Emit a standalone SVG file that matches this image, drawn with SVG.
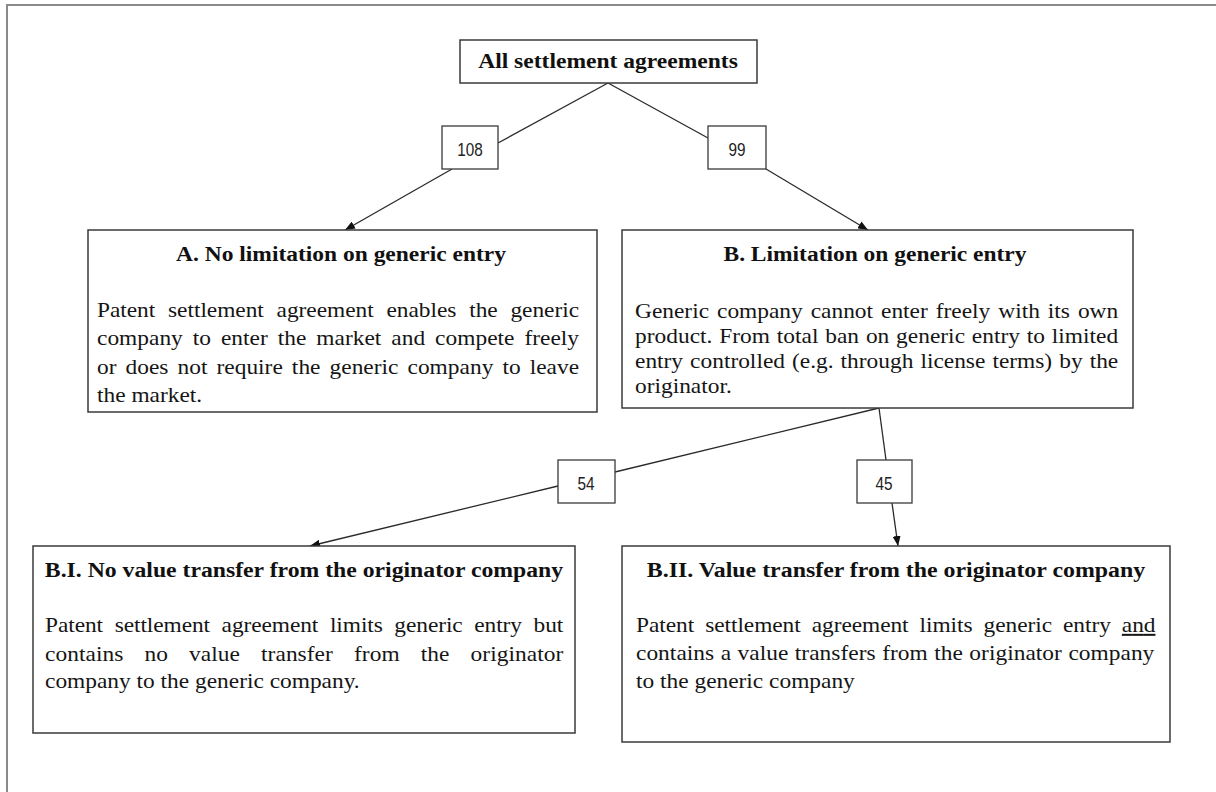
<svg xmlns="http://www.w3.org/2000/svg" width="1216" height="792" viewBox="0 0 1216 792">
<defs>
<style>
.box{fill:#fff;stroke:#3a3a3a;stroke-width:1.5}
.num{fill:#fff;stroke:#3a3a3a;stroke-width:1.3}
.hd{font-family:"Liberation Serif","Times New Roman",serif;font-size:20px;font-weight:bold;fill:#111;text-anchor:middle}
.bd{font-family:"Liberation Serif","Times New Roman",serif;font-size:20px;fill:#151515}
.nt{font-family:"Liberation Sans",Arial,sans-serif;font-size:18px;fill:#222;text-anchor:middle}
.cn{stroke:#2a2a2a;stroke-width:1.3;fill:none}
</style>
<marker id="ah" viewBox="0 0 10 8" refX="10" refY="4" markerWidth="10" markerHeight="8" markerUnits="userSpaceOnUse" orient="auto">
<path d="M0,0 L10,4 L0,8 Z" fill="#111"/>
</marker>
</defs>
<rect x="0" y="0" width="1216" height="792" fill="#fff"/>
<g id="frame">
<path d="M7,792 L7,5 L1216,5" fill="none" stroke="#8a8a8a" stroke-width="2"/>
</g>

<g id="connectors">
<line class="cn" x1="608" y1="83" x2="498" y2="143"/>
<line class="cn" x1="452" y1="169" x2="345" y2="230" marker-end="url(#ah)"/>
<line class="cn" x1="608" y1="83" x2="708" y2="138"/>
<line class="cn" x1="766" y1="169" x2="868" y2="230" marker-end="url(#ah)"/>
<line class="cn" x1="879" y1="408" x2="615" y2="472"/>
<line class="cn" x1="558" y1="486" x2="310" y2="546" marker-end="url(#ah)"/>
<line class="cn" x1="879" y1="408" x2="886" y2="460"/>
<line class="cn" x1="892" y1="503" x2="898" y2="546" marker-end="url(#ah)"/>
</g>

<g id="n108">
<rect class="num" x="442" y="126" width="56" height="43"/>
<text class="nt" transform="translate(470,156) scale(0.85,1)">108</text>
</g>
<g id="n99">
<rect class="num" x="708" y="126" width="58" height="43"/>
<text class="nt" transform="translate(737,156) scale(0.85,1)">99</text>
</g>
<g id="n54">
<rect class="num" x="558" y="460" width="57" height="43"/>
<text class="nt" transform="translate(586,490) scale(0.85,1)">54</text>
</g>
<g id="n45">
<rect class="num" x="857" y="460" width="55" height="43"/>
<text class="nt" transform="translate(884,490) scale(0.85,1)">45</text>
</g>

<g id="all">
<rect class="box" x="460" y="40" width="297" height="43"/>
<text class="hd" transform="translate(608,68) scale(1.17,1)" textLength="222" lengthAdjust="spacingAndGlyphs">All settlement agreements</text>
</g>

<g id="A">
<rect class="box" x="88" y="230" width="509" height="182"/>
<text class="hd" transform="translate(341,261) scale(1.17,1)" textLength="282" lengthAdjust="spacingAndGlyphs">A. No limitation on generic entry</text>
<text class="bd" transform="translate(97,317) scale(1.17,1)" word-spacing="6" textLength="412" lengthAdjust="spacing">Patent settlement agreement enables the generic</text>
<text class="bd" transform="translate(97,345) scale(1.17,1)" word-spacing="3.5" textLength="412" lengthAdjust="spacing">company to enter the market and compete freely</text>
<text class="bd" transform="translate(97,374) scale(1.17,1)" word-spacing="2.7" textLength="412" lengthAdjust="spacing">or does not require the generic company to leave</text>
<text class="bd" transform="translate(97,402) scale(1.17,1)">the market.</text>
</g>

<g id="B">
<rect class="box" x="622" y="230" width="511" height="178"/>
<text class="hd" transform="translate(875,261) scale(1.17,1)" textLength="259" lengthAdjust="spacingAndGlyphs">B. Limitation on generic entry</text>
<text class="bd" transform="translate(635,318) scale(1.17,1)" word-spacing="1.8" textLength="413" lengthAdjust="spacing">Generic company cannot enter freely with its own</text>
<text class="bd" transform="translate(635,343) scale(1.17,1)" word-spacing="0.8" textLength="413" lengthAdjust="spacing">product. From total ban on generic entry to limited</text>
<text class="bd" transform="translate(635,368) scale(1.17,1)" word-spacing="1" textLength="413" lengthAdjust="spacing">entry controlled (e.g. through license terms) by the</text>
<text class="bd" transform="translate(635,393) scale(1.17,1)">originator.</text>
</g>

<g id="BI">
<rect class="box" x="33" y="546" width="542" height="187"/>
<text class="hd" transform="translate(304,577) scale(1.17,1)" textLength="443" lengthAdjust="spacingAndGlyphs">B.I. No value transfer from the originator company</text>
<text class="bd" transform="translate(45,632) scale(1.17,1)" word-spacing="5" textLength="443" lengthAdjust="spacing">Patent settlement agreement limits generic entry but</text>
<text class="bd" transform="translate(45,661) scale(1.17,1)" word-spacing="13" textLength="443" lengthAdjust="spacing">contains no value transfer from the originator</text>
<text class="bd" transform="translate(45,688) scale(1.17,1)">company to the generic company.</text>
</g>

<g id="BII">
<rect class="box" x="622" y="546" width="548" height="196"/>
<text class="hd" transform="translate(896,577) scale(1.17,1)" textLength="426" lengthAdjust="spacingAndGlyphs">B.II. Value transfer from the originator company</text>
<text class="bd" transform="translate(636,632) scale(1.17,1)" word-spacing="4.5" textLength="444" lengthAdjust="spacing">Patent settlement agreement limits generic entry <tspan text-decoration="underline">and</tspan></text>
<text class="bd" transform="translate(636,660) scale(1.17,1)" word-spacing="0.5" textLength="443" lengthAdjust="spacing">contains a value transfers from the originator company</text>
<text class="bd" transform="translate(636,688) scale(1.17,1)">to the generic company</text>
</g>
</svg>
